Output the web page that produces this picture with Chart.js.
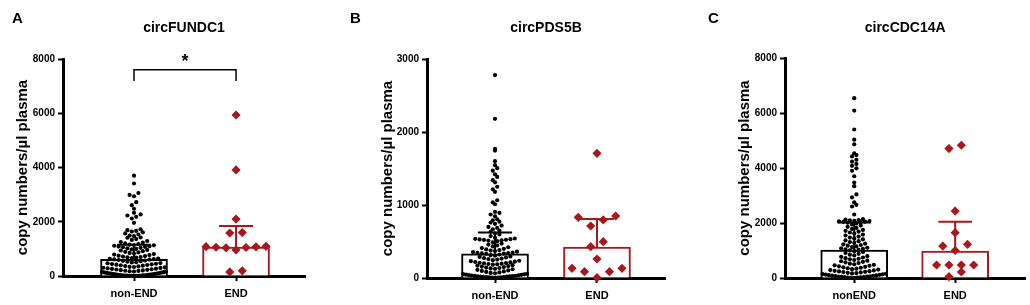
<!DOCTYPE html>
<html>
<head>
<meta charset="utf-8">
<script src="https://cdn.jsdelivr.net/npm/chart.js@4.4.0/dist/chart.umd.min.js"></script>
<style>
  body { margin: 0; background: #fff; }
  #wrap { position: relative; width: 1030px; height: 305px; overflow: hidden; }
  canvas { position: absolute; top: 0; }
</style>
</head>
<body>
<div id="wrap">
  <canvas id="chartA"></canvas>
  <canvas id="chartB"></canvas>
  <canvas id="chartC"></canvas>
</div>
<script>
const FONT = 'Arial, "Liberation Sans", Helvetica, sans-serif';
const RED = '#a8171c';
const CAT_PX = 102;

const titles = ['circFUNDC1', 'circPDS5B', 'circCDC14A'];
const letters = ['A', 'B', 'C'];
const groupLabels = [['non-END', 'END'], ['non-END', 'END'], ['nonEND', 'END']];
const yMax = [8000, 3000, 8000];
const yStep = [2000, 1000, 2000];
const medians = [[610, 1070], [332, 425], [1013, 975]];
const upperQuartiles = [[1150, 1840], [625, 808], [2020, 2050]];

const fundc1NonEnd = [
  3700, 3410, 3060, 2990, 2940, 2720, 2610, 2480, 2330, 2270, 2230, 2180, 2120, 1960, 1720, 1690, 1660,
  1640, 1610, 1570, 1530, 1490, 1470, 1420, 1410, 1360, 1330, 1290, 1250, 1230, 1200, 1180, 1160,
  1140, 1130, 1115, 1100, 1090, 1075, 1060, 1040, 1020, 1000, 985, 960, 940, 915, 890, 870, 850,
  830, 810, 790, 770, 750, 735, 715, 700, 690, 675, 660, 645, 635, 625, 615, 605,
  590, 572, 560, 545, 528, 510, 497, 478, 470, 452, 440, 431, 418, 405, 392, 380, 366, 352, 340, 331,
  318, 305, 296, 284, 270, 262, 248, 240, 228, 215, 206, 194, 186, 175, 166, 158, 150, 141, 132, 124,
  115, 108, 99, 92, 85, 78, 70, 64, 57, 50, 45, 39, 33, 28, 24, 20, 17, 14, 12, 10, 8, 6, 5, 4,
];
const fundc1End = [5935, 3910, 2100, 1600, 1585, 1095, 1080, 1060, 1050, 1075, 1040, 960, 150, 190];

const pds5bNonEnd = [
  2780, 2180, 1770, 1745, 1600, 1545, 1505, 1470, 1420, 1385, 1340, 1310, 1250, 1215, 1180, 1065, 1035,
  1010, 905, 892, 870, 845, 805, 790, 772, 760, 742, 718, 700, 686, 668, 650, 632,
  612, 596, 574, 550, 541, 536, 532, 528, 524, 521, 517, 512, 505, 490, 472, 458, 446, 433, 421, 410,
  400, 392, 383, 376, 369, 361, 355, 349, 344, 340, 337, 334, 331,
  322, 312, 305, 296, 288, 281, 272, 266, 259, 252, 244, 236, 230, 224, 219, 214, 209, 204, 200, 196,
  192, 188, 182, 176, 170, 163, 157, 150, 143, 137, 131, 126, 120, 112, 104, 97, 90, 83, 76, 69, 64,
  58, 54, 50, 46, 43, 40, 37, 34, 31, 28, 26, 24, 22, 20, 18, 16, 14, 12, 10, 8, 6, 4, 2,
];
const pds5bEnd = [1708, 849, 831, 795, 712, 497, 429, 260, 133, 133, 86, 86, 5];

const cdc14aNonEnd = [
  6540, 6090, 5400, 5030, 4860, 4530, 4470, 4420, 4300, 4230, 4150, 4080, 3990, 3900, 3700, 3470, 3340,
  3040, 2930, 2750, 2660, 2600, 2310, 2140, 2125, 2110, 2095, 2080, 2070, 2060, 2050, 2040, 2030,
  2010, 1985, 1950, 1905, 1860, 1820, 1785, 1750, 1715, 1690, 1655, 1615, 1580, 1545, 1505, 1470,
  1440, 1405, 1370, 1340, 1310, 1280, 1250, 1225, 1200, 1175, 1150, 1125, 1100, 1080, 1060, 1040, 1022,
  1005, 975, 945, 910, 880, 850, 820, 795, 770, 745, 720, 700, 680, 655, 630, 610, 590, 565, 545, 520,
  500, 480, 462, 445, 425, 405, 390, 372, 355, 338, 320, 305, 290, 275, 262, 250, 238, 226, 214, 202,
  190, 178, 166, 155, 144, 134, 124, 114, 104, 95, 86, 78, 70, 62, 55, 48, 41, 35, 29, 23, 18, 13, 9, 5,
];
const cdc14aEnd = [4708, 4828, 2432, 1648, 1162, 1223, 1000, 472, 472, 472, 472, 218, 50];

const groupValues = [
  [fundc1NonEnd, fundc1End],
  [pds5bNonEnd, pds5bEnd],
  [cdc14aNonEnd, cdc14aEnd],
];

// canvas boxes and plot areas (canvas pixels)
const panels = [
  { id: 'chartA', left: 0, width: 345, area: { l: 63, r: 305, t: 59, b: 276 }, xMin: -0.696, xMax: 1.676, yTitleX: 23, letterX: 12, bracket: [7600, 7190] },
  { id: 'chartB', left: 345, width: 355, area: { l: 82, r: 320, t: 59, b: 278 }, xMin: -0.667, xMax: 1.667, yTitleX: 43, letterX: 5, bracket: null },
  { id: 'chartC', left: 700, width: 330, area: { l: 85, r: 328, t: 58, b: 278 }, xMin: -0.686, xMax: 1.696, yTitleX: 45, letterX: 8, bracket: null },
];

// Prism-like dot plot: bin points in rows, spread each row around the centre
function swarm(values, center, unitPx, dotPx, maxHalfPx) {
  const rows = {};
  values.slice().sort((a, b) => a - b).forEach((v) => {
    const key = Math.floor((v * unitPx) / dotPx);
    (rows[key] = rows[key] || []).push(v);
  });
  const pts = [];
  Object.values(rows).forEach((row) => {
    const n = row.length;
    const step = n > 1 ? Math.min(dotPx, (2 * maxHalfPx) / (n - 1)) : 0;
    const slots = row
      .map((_, k) => (k - (n - 1) / 2) * step)
      .sort((a, b) => Math.abs(a) - Math.abs(b) || a - b);
    row.forEach((v, k) => pts.push({ x: center + slots[k] / CAT_PX, y: v }));
  });
  return pts;
}

const panelText = {
  id: 'panelText',
  afterDraw(chart, args, opts) {
    const { ctx, chartArea: { left, right }, scales } = chart;
    ctx.save();
    ctx.fillStyle = '#000';
    ctx.font = `bold 15px ${FONT}`;
    ctx.textAlign = 'left';
    ctx.textBaseline = 'alphabetic';
    ctx.fillText(opts.letter, opts.letterX, 23);

    ctx.font = `bold 14px ${FONT}`;
    ctx.textAlign = 'center';
    ctx.textBaseline = 'middle';
    ctx.fillText(opts.title, (left + right) / 2, 28);

    if (opts.bracket) {
      const x0 = scales.x.getPixelForValue(0);
      const x1 = scales.x.getPixelForValue(1);
      const yTop = scales.y.getPixelForValue(opts.bracket[0]);
      const yLeg = scales.y.getPixelForValue(opts.bracket[1]);
      ctx.strokeStyle = '#000';
      ctx.lineWidth = 1.5;
      ctx.beginPath();
      ctx.moveTo(x0, yLeg);
      ctx.lineTo(x0, yTop);
      ctx.lineTo(x1, yTop);
      ctx.lineTo(x1, yLeg);
      ctx.stroke();
      ctx.font = `bold 18px ${FONT}`;
      ctx.textBaseline = 'alphabetic';
      ctx.fillText('*', (x0 + x1) / 2, yTop - 3);
    }
    ctx.restore();
  },
};

const CAP = 17 / CAT_PX;

function errorLines(i, med, q3, color) {
  const base = { type: 'line', borderColor: color, borderWidth: 2, pointRadius: 0, order: 0, clip: false };
  return [
    { ...base, data: [{ x: i, y: med }, { x: i, y: q3 }] },
    { ...base, data: [{ x: i - CAP, y: q3 }, { x: i + CAP, y: q3 }] },
  ];
}

panels.forEach((p, idx) => {
  const canvas = document.getElementById(p.id);
  canvas.width = p.width;
  canvas.height = 305;
  canvas.style.left = p.left + 'px';

  const a = p.area;
  const unitPx = (a.b - a.t) / yMax[idx];
  const [nonEnd, end] = groupValues[idx];
  const padLeft = p.yTitleX - 13;

  const datasets = [
    ...errorLines(0, medians[idx][0], upperQuartiles[idx][0], '#000'),
    ...errorLines(1, medians[idx][1], upperQuartiles[idx][1], RED),
    {
      type: 'scatter',
      data: swarm(nonEnd, 0, unitPx, 4.4, 32),
      pointStyle: 'circle',
      pointRadius: 2.1,
      backgroundColor: '#000',
      borderWidth: 0,
      order: 1,
      clip: false,
    },
    {
      type: 'scatter',
      data: swarm(end, 1, unitPx, 12.5, 30),
      pointStyle: 'rectRot',
      pointRadius: 4.6,
      backgroundColor: RED,
      borderWidth: 0,
      order: 1,
      clip: false,
    },
    {
      type: 'bar',
      data: [{ x: 0, y: medians[idx][0] }, { x: 1, y: medians[idx][1] }],
      backgroundColor: '#fff',
      borderColor: ['#000', RED],
      borderWidth: 2,
      borderSkipped: 'bottom',
      barThickness: 67,
      order: 2,
    },
  ];

  new Chart(canvas, {
    type: 'scatter',
    data: { datasets },
    options: {
      responsive: false,
      animation: false,
      devicePixelRatio: 1,
      layout: {
        padding: { left: padLeft, top: a.t, right: p.width - a.r, bottom: 0 },
      },
      plugins: {
        legend: { display: false },
        tooltip: { enabled: false },
        panelText: { letter: letters[idx], letterX: p.letterX, title: titles[idx], bracket: p.bracket },
      },
      scales: {
        x: {
          type: 'linear',
          min: p.xMin,
          max: p.xMax,
          offset: false,
          afterBuildTicks: (s) => { s.ticks = [{ value: 0 }, { value: 1 }]; },
          afterFit: (s) => { s.height = 305 - a.b; },
          ticks: {
            callback: (v) => groupLabels[idx][v],
            color: '#000',
            font: { family: FONT, size: 11, weight: 'bold' },
            padding: 6,
            maxRotation: 0,
            autoSkip: false,
          },
          grid: { display: true, drawOnChartArea: false, drawTicks: true, tickLength: 5, tickWidth: 2, tickColor: '#000', offset: false },
          border: { display: true, color: '#000', width: 3 },
        },
        y: {
          type: 'linear',
          min: 0,
          max: yMax[idx],
          afterFit: (s) => { s.width = a.l - padLeft; },
          ticks: {
            stepSize: yStep[idx],
            callback: (v) => String(v),
            color: '#000',
            font: { family: FONT, size: 10, weight: 'bold' },
            padding: 3,
          },
          grid: { display: true, drawOnChartArea: false, drawTicks: true, tickLength: 5, tickWidth: 2, tickColor: '#000' },
          border: { display: true, color: '#000', width: 3 },
          title: {
            display: true,
            text: 'copy numbers/µl plasma',
            color: '#000',
            font: { family: FONT, size: 15, weight: 'bold' },
            padding: { top: 4, bottom: 0 },
          },
        },
      },
    },
    plugins: [panelText],
  });
});
</script>
</body>
</html>
